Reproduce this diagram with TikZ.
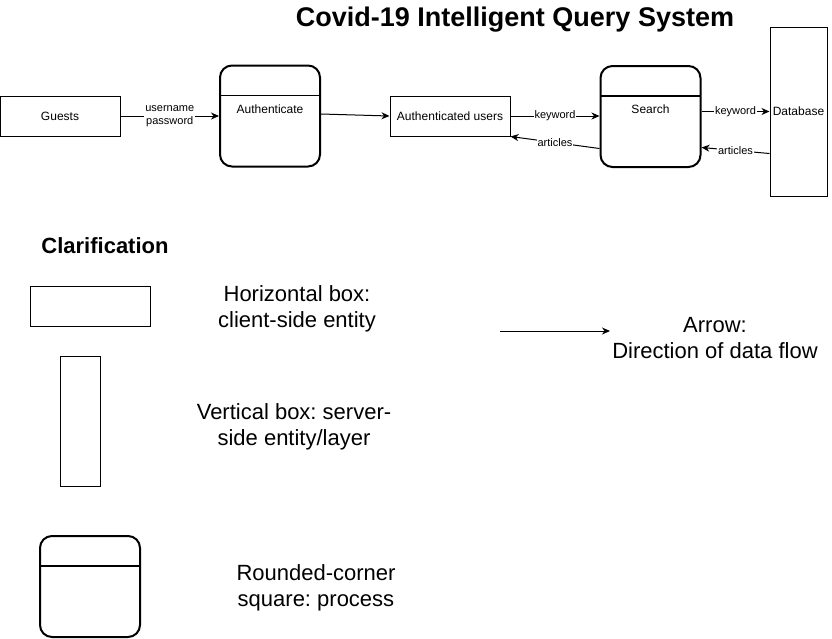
\documentclass[tikz,border=0pt]{standalone}
\usepackage{fontspec}
\setmainfont{Liberation Sans}
\usetikzlibrary{arrows.meta}
\frenchspacing

\begin{document}
\begin{tikzpicture}[x=1pt, y=-1pt,
    entity/.style={draw, line width=1pt, minimum width=120pt, minimum height=40pt, inner sep=0pt, font=\fontsize{12}{14}\selectfont},
    layer/.style={draw, line width=1pt, minimum width=57pt, minimum height=169pt, inner sep=0pt, font=\fontsize{12}{14}\selectfont},
    process/.style={draw, line width=2pt, rounded corners=12pt, minimum width=100pt, minimum height=101pt, inner sep=0pt,
        path picture={\draw[line width=1.7pt] ([yshift=-30pt]path picture bounding box.north west) -- ([yshift=-30pt]path picture bounding box.north east);}},
    proclabel/.style={font=\fontsize{12}{14}\selectfont},
    flow/.style={-{Stealth[length=8pt, width=7pt, inset=2.5pt]}, line width=1pt},
    flowlabel/.style={fill=white, inner sep=1pt, align=center, font=\fontsize{11}{12.5}\selectfont},
    legendtext/.style={align=center, font=\fontsize{22}{26}\selectfont}]

    \useasboundingbox (0,0) rectangle (832,638);

    % Заголовок
    \node[font=\fontsize{27}{30}\selectfont\bfseries] (title) at (515,19.5) {Covid-19 Intelligent Query System};

    % Блоки
    \node[entity] (guests) at (60,116) {Guests};
    \node[process] (auth) at (270,116) {};
    \node[proclabel] (authtext) at ([yshift=-45pt]auth.north) {Authenticate};
    \node[entity] (users) at (450,116) {Authenticated users};
    \node[process] (search) at (650.5,116.5) {};
    \node[proclabel] (searchtext) at ([yshift=-44pt]search.north) {Search};
    \node[layer] (db) at (798.5,111.5) {Database};

    % Потоки данных
    \draw[flow] (guests) -- node[flowlabel] (credlabel) {username\\password} (auth);
    \draw[flow] ([yshift=2pt]auth.east) -- (users.west);
    \draw[flow] (users.east) -- node[flowlabel] (kwlabel) {keyword} (search.west |- users.east);
    \draw[flow] ([yshift=-32pt]search.west) -- node[flowlabel] (artlabel) {articles} (users.south east);
    \draw[flow] (search.east |- db.west) -- node[flowlabel] (dbkwlabel) {keyword} (db.west);
    \draw[flow] ([yshift=-42pt]db.west) -- node[flowlabel] (dbartlabel) {articles} ([yshift=-31pt]search.east);

    % Пояснения
    \node[font=\fontsize{22}{26}\selectfont\bfseries] (clarif) at (105,246) {Clarification};

    \node[entity] (hbox) at (90,306) {};
    \node[legendtext] (htext) at (297,309) {Horizontal box:\\client-side entity};

    \node[draw, line width=1pt, minimum width=40pt, minimum height=130pt] (vbox) at (80,421) {};
    \node[legendtext] (vtext) at (294,427) {Vertical box: server-\\side entity/layer};

    \node[process] (pbox) at (90,586.5) {};
    \node[legendtext] (ptext) at (316,588) {Rounded-corner\\square: process};

    \coordinate (arrowstart) at (500,331);
    \coordinate (arrowend) at (610,331);
    \draw[flow] (arrowstart) -- (arrowend);
    \node[legendtext] (atext) at (715,338) {Arrow:\\Direction of data flow};

\end{tikzpicture}
\end{document}
